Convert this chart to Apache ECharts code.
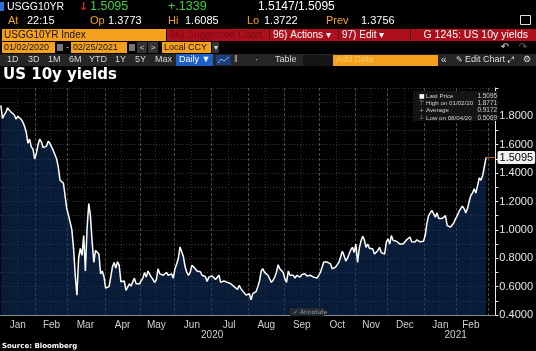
<!DOCTYPE html>
<html>
<head>
<meta charset="utf-8">
<title>US 10y yields</title>
<script src="https://cdn.jsdelivr.net/npm/echarts@6/dist/echarts.min.js"></script>
<style>
  html, body { margin: 0; padding: 0; background: #000; }
  #chart { width: 536px; height: 351px; }
</style>
</head>
<body>
<div id="chart"></div>
<script>
// USGG10YR close, one value per trading day
const jan20 = [1.877, 1.785, 1.81, 1.83, 1.86, 1.85, 1.83, 1.84, 1.81, 1.78, 1.80, 1.81, 1.78, 1.76, 1.73, 1.69, 1.61, 1.64, 1.585, 1.57, 1.50]
const feb20 = [1.54, 1.60, 1.64, 1.62, 1.58, 1.57, 1.59, 1.625, 1.61, 1.585, 1.56, 1.55, 1.50, 1.44, 1.35, 1.34, 1.33, 1.24, 1.15]
const mar20 = [1.14, 1.055, 1.00, 0.87, 0.68, 0.54, 0.80, 0.87, 0.82, 0.96, 0.71, 1.01, 1.185, 1.10, 0.915, 0.77, 0.855, 0.86, 0.83, 0.69, 0.71, 0.67]
const apr20 = [0.59, 0.595, 0.60, 0.667, 0.74, 0.77, 0.73, 0.775, 0.75, 0.635, 0.63, 0.64, 0.573, 0.58, 0.62, 0.605, 0.60, 0.66, 0.62, 0.63, 0.62]
const may20 = [0.64, 0.66, 0.70, 0.667, 0.71, 0.70, 0.667, 0.65, 0.63, 0.65, 0.726, 0.69, 0.69, 0.68, 0.667, 0.70, 0.68, 0.69, 0.69, 0.66]
const jun20 = [0.726, 0.76, 0.80, 0.88, 0.89, 0.81, 0.74, 0.70, 0.68, 0.70, 0.75, 0.74, 0.726, 0.71, 0.70, 0.705, 0.68, 0.68, 0.67, 0.636, 0.667, 0.675]
const jul20 = [0.675, 0.667, 0.65, 0.65, 0.68, 0.63, 0.64, 0.64, 0.63, 0.63, 0.62, 0.62, 0.61, 0.60, 0.60, 0.58, 0.61, 0.585, 0.57, 0.56, 0.54, 0.535]
const aug20 = [0.55, 0.507, 0.55, 0.54, 0.565, 0.60, 0.64, 0.71, 0.726, 0.70, 0.69, 0.68, 0.667, 0.63, 0.645, 0.667, 0.70, 0.754, 0.726, 0.714, 0.70]
const sep20 = [0.655, 0.63, 0.71, 0.68, 0.69, 0.68, 0.66, 0.68, 0.672, 0.667, 0.685, 0.685, 0.69, 0.675, 0.667, 0.68, 0.67, 0.667, 0.655, 0.66, 0.68]
const oct20 = [0.70, 0.714, 0.773, 0.78, 0.773, 0.77, 0.76, 0.726, 0.73, 0.737, 0.75, 0.773, 0.81, 0.85, 0.82, 0.78, 0.80, 0.83, 0.86, 0.877, 0.84]
const nov20 = [0.90, 0.77, 0.87, 0.92, 0.956, 0.93, 0.877, 0.90, 0.87, 0.86, 0.865, 0.83, 0.84, 0.855, 0.877, 0.84, 0.835, 0.83, 0.914]
const dec20 = [0.937, 0.90, 0.96, 0.926, 0.937, 0.92, 0.914, 0.90, 0.895, 0.90, 0.914, 0.93, 0.937, 0.95, 0.916, 0.93, 0.914, 0.93, 0.925, 0.916, 0.91, 0.92]
const jan21 = [0.96, 1.044, 1.10, 1.12, 1.138, 1.126, 1.09, 1.12, 1.08, 1.09, 1.08, 1.08, 1.10, 1.03, 1.044, 1.02, 1.013, 1.05, 1.08]
const feb21 = [1.10, 1.13, 1.15, 1.167, 1.15, 1.12, 1.15, 1.20, 1.243, 1.26, 1.29, 1.26, 1.314, 1.366, 1.35, 1.385, 1.3756, 1.5095]

const yields = [].concat(jan20, feb20, mar20, apr20, may20, jun20, jul20, aug20, sep20, oct20, nov20, dec20, jan21, feb21)

// bond market holidays, skipped on the axis
const holidays = ['2020-01-20', '2020-02-17', '2020-04-10', '2020-05-25', '2020-07-03', '2020-09-07',
  '2020-10-12', '2020-11-11', '2020-11-26', '2020-12-25', '2021-01-01', '2021-01-18', '2021-02-15']
const firstDay = '2020-01-02'
const lastDay = '2021-03-04' // axis runs a few sessions past the last print

const monthNames = ['Jan', 'Feb', 'Mar', 'Apr', 'May', 'Jun', 'Jul', 'Aug', 'Sep', 'Oct', 'Nov', 'Dec']

const legendRows = [
  ['Last Price', '1.5095'],
  ['High on 01/02/20', '1.8771'],
  ['Average', '0.9172'],
  ['Low on 08/04/20', '0.5069'],
]

function tradingDays(from, to) {
  const out = []
  const d = new Date(from + 'T00:00:00Z')
  const end = new Date(to + 'T00:00:00Z')
  while (d <= end) {
    const s = d.toISOString().slice(0, 10)
    const wd = d.getUTCDay()
    if (wd !== 0 && wd !== 6 && !holidays.includes(s)) out.push(s)
    d.setUTCDate(d.getUTCDate() + 1)
  }
  return out
}

const days = tradingDays(firstDay, lastDay)
const lastIdx = yields.length - 1
const lastVal = yields[lastIdx]

// month / year groups over the days that have data
const monthStart = new Set()
const monthMid = new Set()
const yearStart = new Set([0])
const yearMid = new Set()
{
  let start = 0
  let yStart = 0
  for (let i = 1; i <= days.length; i++) {
    if (i === days.length || days[i].slice(0, 7) !== days[i - 1].slice(0, 7)) {
      if (i < days.length) monthStart.add(i)
      const end = Math.min(i - 1, lastIdx)
      if (start <= lastIdx) monthMid.add(Math.floor((start + end) / 2))
      start = i
    }
    if (i === days.length || days[i].slice(0, 4) !== days[i - 1].slice(0, 4)) {
      if (i < days.length) yearStart.add(i)
      const end = Math.min(i - 1, lastIdx)
      if (yStart <= lastIdx) yearMid.add(Math.floor((yStart + end) / 2))
      yStart = i
    }
  }
}

const orange = '#f5a11d'
const red = '#ad0f1c'
const font = '"Liberation Sans", Arial, sans-serif'

const T = (x, y, text, fill, size, extra) => ({
  type: 'text', x, y, z: 20, silent: true,
  style: Object.assign({ text, fill, font: size + 'px ' + font, verticalAlign: 'middle' }, extra || {}),
})
const R = (x, y, w, h, fill, extra) => ({
  type: 'rect', z: 19, silent: true, shape: { x, y, width: w, height: h },
  style: Object.assign({ fill }, extra || {}),
})

const header = [
  // quote line
  R(0, 2, 4, 9, '#2f6fd8'),
  T(7, 7, 'USGG10YR', '#fff', 10.5),
  T(79, 7, '↓', '#e02525', 11, { font: 'bold 11px "DejaVu Sans"' }),
  T(90, 7, '1.5095', '#3fd23f', 12.5),
  T(168, 7, '+.1339', '#3fd23f', 12.5),
  T(258, 7, '1.5147/1.5095', '#fff', 12),
  T(8, 21, 'At', orange, 11), T(27, 21, '22:15', '#fff', 11),
  T(90, 21, 'Op', orange, 11), T(108, 21, '1.3773', '#fff', 11),
  T(168, 21, 'Hi', orange, 11), T(185, 21, '1.6085', '#fff', 11),
  T(247, 21, 'Lo', orange, 11), T(264, 21, '1.3722', '#fff', 11),
  T(326, 21, 'Prev', orange, 11), T(361, 21, '1.3756', '#fff', 11),
  R(520.5, 15.5, 10, 9, 'none', { stroke: '#ddd', lineWidth: 1 }),
  // ticker / actions bar
  R(2, 29, 164, 12, orange),
  T(4, 35, 'USGG10YR Index', '#111', 10),
  R(167, 29, 369, 12, red),
  T(170, 35, '96) Suggested Charts', '#7a0a14', 10, { width: 96, overflow: 'truncate', ellipsis: '' }),
  R(269, 29, 1, 12, '#5a0008'), R(338, 29, 1, 12, '#5a0008'), R(410, 29, 1, 12, '#5a0008'),
  T(273, 35, '96) Actions ▾', '#fff', 10),
  T(342, 35, '97) Edit ▾', '#fff', 10),
  T(528, 35, 'G 1245: US 10y yields', '#fff', 10.5, { align: 'right' }),
  // date range line
  R(2, 42, 53, 11, orange), T(4, 47.5, '01/02/2020', '#111', 9),
  R(57, 44, 6, 7, '#777'),
  T(66, 47.5, '-', '#ccc', 9),
  R(71, 42, 56, 11, orange), T(73, 47.5, '02/25/2021', '#111', 9),
  R(129, 44, 6, 7, '#777'),
  R(137, 42, 10, 11, '#333'), T(142, 47.5, '<', '#ddd', 8, { align: 'center' }),
  R(148, 42, 10, 11, '#333'), T(153, 47.5, '>', '#ddd', 8, { align: 'center' }),
  R(162, 42, 49, 11, orange), T(164, 47.5, 'Local CCY', '#111', 9),
  R(212, 42, 7, 11, '#333'), T(215.5, 47.5, '▾', '#ddd', 8, { align: 'center' }),
  T(505, 47.5, '↶', '#ddd', 10, { align: 'center', font: '10px "DejaVu Sans"' }),
  T(523, 47.5, '↷', '#666', 10, { align: 'center', font: '10px "DejaVu Sans"' }),
  // period / tools line
  R(0, 54, 536, 12, '#262626'),
  T(7, 60, '1D', '#d8d8d8', 9), T(28, 60, '3D', '#d8d8d8', 9), T(48, 60, '1M', '#d8d8d8', 9),
  T(69, 60, '6M', '#d8d8d8', 9), T(89, 60, 'YTD', '#d8d8d8', 9), T(115, 60, '1Y', '#d8d8d8', 9),
  T(135, 60, '5Y', '#d8d8d8', 9), T(155, 60, 'Max', '#d8d8d8', 9),
  R(176, 54, 37, 12, '#1f5fc8'), T(179, 60, 'Daily ▼', '#fff', 9),
  R(216, 55, 15, 10, '#1b3f7a'),
  { type: 'polyline', z: 20, silent: true, shape: { points: [[218, 63], [221, 59], [224, 61], [229, 57]] }, style: { stroke: '#7fb0ff', fill: 'none', lineWidth: 1 } },
  T(234, 60, '‖', '#bbb', 9), T(255, 60, '·', '#bbb', 10),
  T(275, 60, 'Table', '#d8d8d8', 9),
  R(303, 55, 30, 11, '#161616'),
  R(333, 55, 105, 11, orange), T(336, 60, 'Add Data', '#f8c860', 9),
  T(441, 60, '«', '#ddd', 10),
  T(456, 60, '✎', '#ddd', 8, { font: '8px "DejaVu Sans"' }),
  T(465, 60, 'Edit Chart', '#ddd', 9),
  T(508, 60, '⤢', '#ddd', 8, { font: '8px "DejaVu Sans"' }),
  T(523, 60, '⚙', '#ddd', 9, { font: '9px "DejaVu Sans"' }),
  // title
  T(3, 75, 'US 10y yields', '#fff', 15, { font: 'bold 15px "DejaVu Sans"' }),
]

const legendMarks = ['■', '⊤', '+', '⊥']
const legend = [R(413, 91, 85, 30, '#141414')]
legendRows.forEach((r, i) => {
  const y = 96 + i * 7.3
  legend.push(T(419, y, legendMarks[i], i === 0 ? '#fff' : '#aaa', 6, { font: '6px "DejaVu Sans"' }))
  legend.push(T(426, y, r[0], '#cfcfcf', 6.2))
  legend.push(T(497, y, r[1], '#cfcfcf', 6.4, { align: 'right' }))
})

const footer = [
  R(290, 308, 34, 8, '#262a30'),
  T(293, 312, '✓ Annotate', '#8d96a0', 6, { font: '6px "DejaVu Sans"' }),
  T(2, 346, 'Source: Bloomberg', '#fff', 7, { font: 'bold 7px "DejaVu Sans"' }),
]

const chart = echarts.init(document.getElementById('chart'), null, { renderer: 'canvas' })

chart.setOption({
  backgroundColor: '#000',
  animation: false,
  grid: { left: 0, right: 38, top: 88, bottom: 36, containLabel: false },
  xAxis: [
    {
      type: 'category',
      data: days,
      boundaryGap: true,
      axisLine: { lineStyle: { color: '#8a8a8a' } },
      axisTick: { length: 4, lineStyle: { color: '#8a8a8a' }, interval: (i) => monthStart.has(i) },
      axisLabel: {
        color: '#d0d0d0', fontSize: 10, fontFamily: 'Liberation Sans', margin: 5,
        interval: (i) => monthMid.has(i),
        formatter: (v) => monthNames[+v.slice(5, 7) - 1],
      },
      splitLine: { show: true, interval: (i) => monthStart.has(i), lineStyle: { color: '#4a4a4a', type: [3, 2] } },
    },
    {
      type: 'category',
      data: days,
      boundaryGap: true,
      position: 'bottom',
      offset: 11,
      axisLine: { show: false },
      axisTick: { length: 15, lineStyle: { color: '#8a8a8a' }, interval: (i) => yearStart.has(i) },
      axisLabel: {
        color: '#d0d0d0', fontSize: 10, fontFamily: 'Liberation Sans', margin: 4,
        interval: (i) => yearMid.has(i),
        formatter: (v) => v.slice(0, 4),
      },
      splitLine: { show: true, interval: (i) => monthMid.has(i), lineStyle: { color: '#2e2e2e', type: [1, 2] } },
    },
  ],
  yAxis: {
    type: 'value',
    position: 'right',
    min: 0.4,
    max: 2.0,
    interval: 0.1,
    axisLine: { show: true, lineStyle: { color: '#e8e8e8' } },
    axisTick: { show: true, length: 3, lineStyle: { color: '#e8e8e8' } },
    axisLabel: {
      color: '#e6e6e6', fontSize: 11, fontFamily: 'Liberation Sans', margin: 4,
      formatter: (v) => (Math.round(v * 10) % 2 === 0 && v < 1.95 ? v.toFixed(4) : ''),
    },
    splitLine: { lineStyle: { color: '#363636', type: [1, 2] } },
  },
  series: [
    {
      name: 'USGG10YR',
      type: 'line',
      data: yields,
      symbol: 'none',
      lineStyle: { color: '#fff', width: 1.5 },
      areaStyle: { color: 'rgba(16, 52, 100, 0.78)', origin: 'start' },
      markLine: {
        silent: true,
        symbol: 'none',
        animation: false,
        lineStyle: { color: '#c8641e', width: 1, type: 'solid' },
        label: {
          position: 'end',
          formatter: lastVal.toFixed(4),
          backgroundColor: '#f2f2f2',
          color: '#000',
          fontSize: 11,
          fontFamily: 'Liberation Sans',
          padding: [1, 2],
          borderRadius: 2,
          distance: 3,
        },
        data: [[{ coord: [lastIdx, lastVal] }, { coord: [days.length - 1, lastVal] }]],
      },
    },
  ],
  graphic: header.concat(legend, footer),
})
</script>
</body>
</html>
